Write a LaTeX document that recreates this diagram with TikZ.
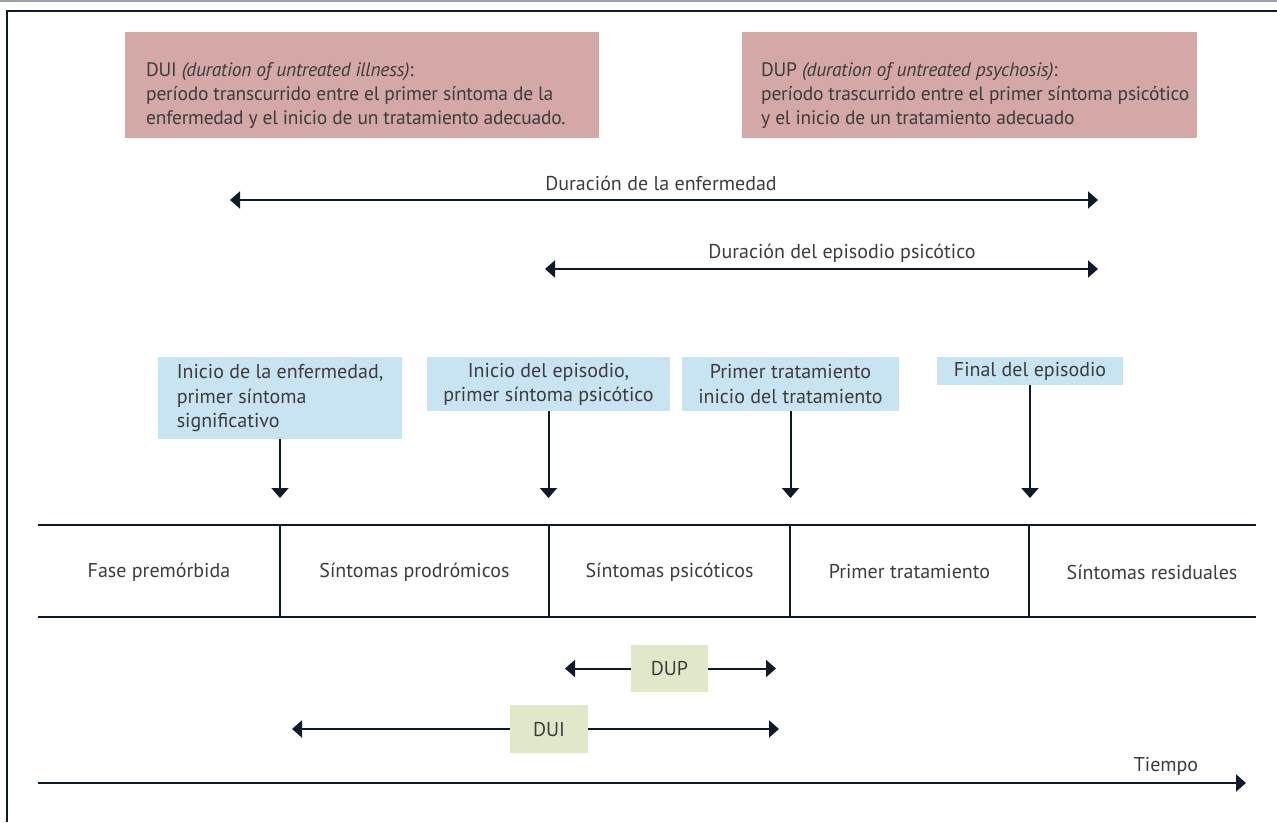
\documentclass[tikz,border=0pt]{standalone}
\usepackage{fontspec}
\setmainfont{PT Sans}
\usetikzlibrary{arrows.meta}

\definecolor{ink}{HTML}{0E1A2A}
\definecolor{txt}{HTML}{3C3C3C}
\definecolor{rose}{HTML}{D3A8A6}
\definecolor{sky}{HTML}{C8E3F2}
\definecolor{sage}{HTML}{E1E8C9}
\definecolor{rulegray}{HTML}{9DA1A7}

\tikzset{
  lbl/.style={font=\fontsize{20}{24.5}\selectfont, text=txt, inner sep=0pt},
  deftext/.style={font=\fontsize{19.5}{24}\selectfont\addfontfeatures{LetterSpace=-1.2}, text=txt, inner sep=0pt, anchor=west, align=left},
  rosebox/.style={fill=rose, anchor=north west, inner sep=0pt},
  skybox/.style={lbl, fill=sky, anchor=north, inner sep=0pt},
  sagebox/.style={lbl, fill=sage, inner sep=0pt},
  arr/.style={draw=ink, line width=2pt, -{Triangle[length=10pt, width=17pt]}},
  darr/.style={draw=ink, line width=2pt, {Triangle[length=10pt, width=17pt]}-{Triangle[length=10pt, width=17pt]}},
  tblline/.style={draw=ink, line width=2.2pt},
  divline/.style={draw=ink, line width=1.6pt},
  framel/.style={draw=ink, line width=2pt},
}

\begin{document}
\begin{tikzpicture}[x=1pt, y=-1pt]
\useasboundingbox (0,0) rectangle (1277,822);

% outer frame
\draw[rulegray, line width=2pt] (0,1) -- (1277,1);
\draw[framel] (1277,10.5) -- (6.5,10.5) -- (6.5,822);

% definitions
\node[rosebox, minimum width=474, minimum height=106] (duidef) at (125,32) {};
\node[deftext] (duitext) at (146,96)
  {DUI \textit{(duration of untreated illness)}:\\
   período transcurrido entre el primer síntoma de la\\
   enfermedad y el inicio de un tratamiento adecuado.};
\node[rosebox, minimum width=455, minimum height=106] (dupdef) at (742,32) {};
\node[deftext] (duptext) at (761,96)
  {DUP \textit{(duration of untreated psychosis)}:\\
   período trascurrido entre el primer síntoma psicótico\\
   y el inicio de un tratamiento adecuado};

% durations
\coordinate (enfL) at (230,200);
\coordinate (enfR) at (1098,200);
\draw[darr] (enfL) -- (enfR);
\node[lbl] (enflbl) at (661,183) {Duración de la enfermedad};

\coordinate (epiL) at (545,269);
\coordinate (epiR) at (1098,269);
\draw[darr] (epiL) -- (epiR);
\node[lbl] (epilbl) at (842,253) {Duración del episodio psicótico};

% events
\node[skybox, minimum width=244, minimum height=82, align=left] (evA) at (280,357)
  {Inicio de la enfermedad,\\primer síntoma\\significativo};
\node[skybox, minimum width=243, minimum height=54, align=center] (evB) at (548.5,357)
  {Inicio del episodio,\\primer síntoma psicótico};
\node[skybox, minimum width=217, minimum height=54, align=center] (evC) at (790.5,357)
  {Primer tratamiento\\inicio del tratamiento};
\node[skybox, minimum width=186, minimum height=28, align=center] (evD) at (1030,357)
  {Final del episodio};

\coordinate (pA) at (280,498);
\coordinate (pB) at (548.5,498);
\coordinate (pC) at (790.5,498);
\coordinate (pD) at (1030,498);
\draw[arr] (evA) -- (pA);
\draw[arr] (evB) -- (pB);
\draw[arr] (evC) -- (pC);
\draw[arr] (evD) -- (pD);

% phases
\draw[tblline] (38,525) -- (1256,525);
\draw[tblline] (38,617) -- (1256,617);
\foreach \x in {280,549,790,1029}
  \draw[divline] (\x,525) -- (\x,617);
\node[lbl] (ph1) at (159,572) {Fase premórbida};
\node[lbl] (ph2) at (414.5,572) {Síntomas prodrómicos};
\node[lbl] (ph3) at (669.5,572) {Síntomas psicóticos};
\node[lbl] (ph4) at (909.5,572) {Primer tratamiento};
\node[lbl] (ph5) at (1152,572) {Síntomas residuales};

% DUP / DUI spans
\node[sagebox, minimum width=77, minimum height=47] (dup) at (669.5,668.5) {DUP};
\coordinate (dupL) at (565,668.5);
\coordinate (dupR) at (776,668.5);
\draw[arr] (dup) -- (dupL);
\draw[arr] (dup) -- (dupR);

\node[sagebox, minimum width=78, minimum height=48] (dui) at (549,729) {DUI};
\coordinate (duiL) at (292,729);
\coordinate (duiR) at (779,729);
\draw[arr] (dui) -- (duiL);
\draw[arr] (dui) -- (duiR);

% time axis
\coordinate (t0) at (38,783);
\coordinate (t1) at (1246,783);
\draw[arr] (t0) -- (t1);
\node[lbl] (tlbl) at (1166,766) {Tiempo};
\end{tikzpicture}
\end{document}
